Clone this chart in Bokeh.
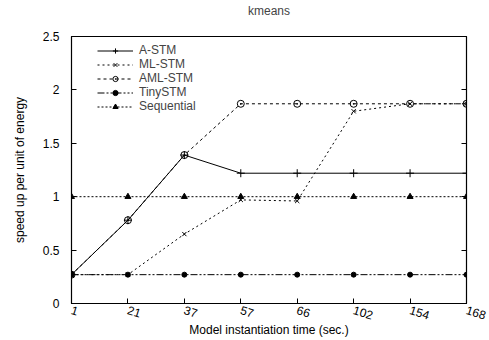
from bokeh.plotting import figure
from bokeh.models import Range1d, FixedTicker, LinearAxis, Legend, LegendItem, Title
from bokeh.embed import file_html
from bokeh.resources import INLINE

categories = ["1", "21", "37", "57", "66", "102", "154", "168"]
a_stm = [0.27, 0.78, 1.39, 1.22, 1.22, 1.22, 1.22, 1.22]
ml_stm = [0.27, 0.27, 0.65, 0.97, 0.96, 1.80, 1.87, 1.87]
aml_stm = [0.27, 0.78, 1.39, 1.87, 1.87, 1.87, 1.87, 1.87]
tiny_stm = [0.27, 0.27, 0.27, 0.27, 0.27, 0.27, 0.27, 0.27]
sequential = [1.0, 1.0, 1.0, 1.0, 1.0, 1.0, 1.0, 1.0]
y_ticks = [0, 0.5, 1, 1.5, 2, 2.5]

FONT = "Liberation Sans"
xs = list(range(len(categories)))

p = figure(width=489, height=340, output_backend="svg", toolbar_location=None,
           x_range=Range1d(0, len(categories) - 1), y_range=Range1d(0, 2.5),
           min_border_left=71, min_border_right=23, min_border_top=36, min_border_bottom=30)
p.add_layout(Title(text=" ", text_font_size="7px", text_font=FONT), "above")
p.add_layout(Title(text="kmeans", align="center", text_font=FONT, text_font_size="12px",
                   text_font_style="normal", offset=0, standoff=0), "above")

p.xgrid.visible = False
p.ygrid.visible = False
p.outline_line_color = "black"
p.outline_line_width = 1.2
p.background_fill_color = "white"

xa = p.xaxis[0]
xa.ticker = FixedTicker(ticks=xs)
xa.major_label_overrides = {i: c for i, c in enumerate(categories)}
xa.major_label_orientation = -0.3
xa.axis_label = "Model instantiation time (sec.)"
ya = p.yaxis[0]
ya.ticker = FixedTicker(ticks=y_ticks)
ya.major_label_overrides = {0: "0", 0.5: "0.5", 1: "1", 1.5: "1.5", 2: "2", 2.5: "2.5"}
ya.axis_label = "speed up per unit of energy"
for ax in (xa, ya):
    ax.major_tick_in = 5
    ax.major_tick_out = 0
    ax.minor_tick_line_color = None
    ax.axis_line_color = "black"
    ax.major_label_text_font = FONT
    ax.major_label_text_font_size = "12px"
    ax.major_label_text_color = "black"
    ax.axis_label_text_font = FONT
    ax.axis_label_text_font_size = "12px"
    ax.axis_label_text_font_style = "normal"
    ax.axis_label_text_color = "black"
xa.axis_label_standoff = -4
ya.axis_label_standoff = 13
ya.major_label_standoff = 12
xa.major_label_standoff = 6

ra = LinearAxis(ticker=FixedTicker(ticks=y_ticks), major_label_text_font_size="0px",
                major_tick_in=5, major_tick_out=0, minor_tick_line_color=None,
                major_label_text_color=None)
p.add_layout(ra, "right")

series = [
    ("A-STM", a_stm, "solid", "cross", 8, "black"),
    ("ML-STM", ml_stm, "2 3", "x", 6, "black"),
    ("AML-STM", aml_stm, "3 3", "circle_dot", 7, None),
    ("TinySTM", tiny_stm, "7 2 2 2 2 2", "circle", 5, "black"),
    ("Sequential", sequential, "2 2", "triangle", 6, "black"),
]
items = []
for name, ys, dash, marker, size, fill in series:
    l = p.line(xs, ys, line_color="black", line_width=1, line_dash=dash)
    s = p.scatter(xs, ys, marker=marker, size=size, line_color="black",
                  fill_color=fill, line_width=1)
    items.append(LegendItem(label=name, renderers=[l, s]))

legend = Legend(items=items, location=(26, 190), margin=0, spacing=0, padding=2,
                label_text_font=FONT, label_text_font_size="12px",
                label_height=12, glyph_height=13, glyph_width=36,
                label_standoff=6, background_fill_alpha=0, border_line_color=None)
p.add_layout(legend, "center")

open("out.html", "w").write(file_html(p, INLINE))
